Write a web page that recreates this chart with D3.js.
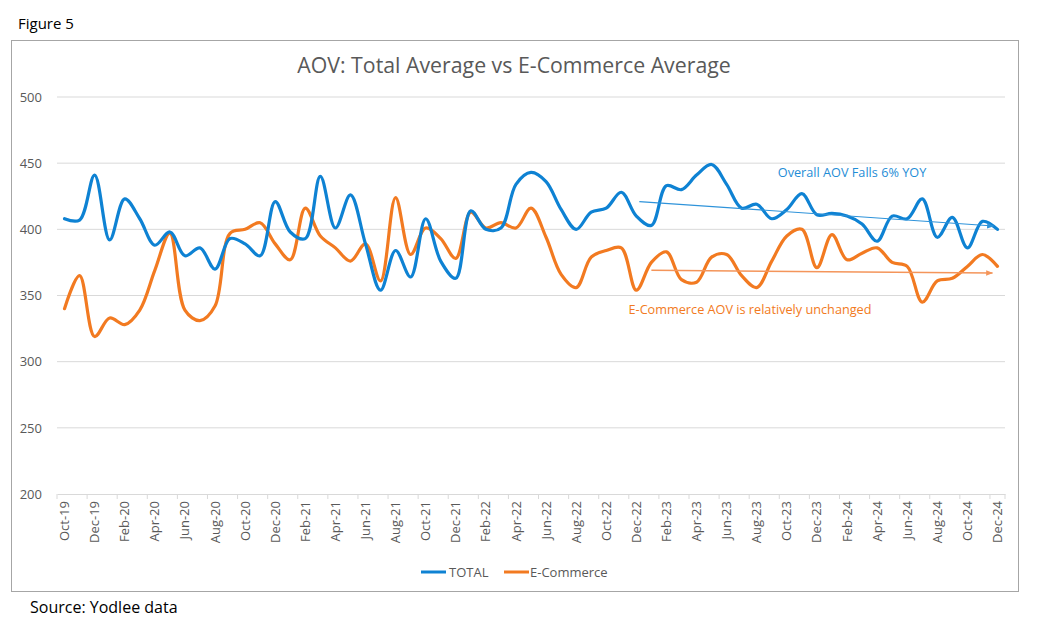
<!DOCTYPE html>
<html><head><meta charset="utf-8">
<script src="https://cdn.jsdelivr.net/npm/d3@7"></script>
<style>body{margin:0;background:#fff;}svg{display:block;font-family:"Open Sans","Noto Sans",sans-serif;}</style>
</head><body><svg id="c" width="1051" height="625"></svg>
<script>
const months = ["Oct-19","Nov-19","Dec-19","Jan-20","Feb-20","Mar-20","Apr-20","May-20","Jun-20","Jul-20","Aug-20","Sep-20","Oct-20","Nov-20","Dec-20","Jan-21","Feb-21","Mar-21","Apr-21","May-21","Jun-21","Jul-21","Aug-21","Sep-21","Oct-21","Nov-21","Dec-21","Jan-22","Feb-22","Mar-22","Apr-22","May-22","Jun-22","Jul-22","Aug-22","Sep-22","Oct-22","Nov-22","Dec-22","Jan-23","Feb-23","Mar-23","Apr-23","May-23","Jun-23","Jul-23","Aug-23","Sep-23","Oct-23","Nov-23","Dec-23","Jan-24","Feb-24","Mar-24","Apr-24","May-24","Jun-24","Jul-24","Aug-24","Sep-24","Oct-24","Nov-24","Dec-24"];
const totalValues = [408,407,441,392,423,408,388,398,380,386,370,393,389,380,421,398,393,440,401,426,389,354,384,364,408,376,363,414,400,401,434,443,436,415,400,413,416,428,410,403,433,430,441,449,434,416,419,408,415,427,411,412,410,404,391,410,408,423,394,409,386,406,400];
const ecomValues = [340,365,319,333,328,339,369,397,339,331,342,397,400,405,389,377,416,395,386,376,389,361,424,381,401,393,378,413,401,405,401,416,394,366,356,379,384,386,354,375,383,362,360,379,381,365,356,376,395,400,371,396,377,382,386,375,372,345,361,363,372,381,372];
const yTicks = [200,250,300,350,400,450,500];
const seriesNames = ["TOTAL","E-Commerce"];
const colors = ["#0E82D3","#F27A21"];
const totalTrend = {from:"Dec-22", to:"Dec-24", v0:421, v1:402.5};
const ecomTrend = {from:"Jan-23", to:"Dec-24", v0:369, v1:367};
const annTotal = "Overall AOV Falls 6% YOY";
const annEcom = "E-Commerce AOV is relatively unchanged";

(function(){
const svg = d3.select("#c");
const L = 57, R = 1005, T = 97, B = 494;
const x = d3.scaleBand().domain(months).range([L, R]);
const xc = m => x(m) + x.bandwidth()/2;
const y = d3.scaleLinear().domain([200,500]).range([B, T]);

svg.append("text").attr("x",18).attr("y",29).attr("font-size",15).attr("fill","#000").text("Figure 5");
svg.append("rect").attr("x",11.5).attr("y",40.5).attr("width",1007).attr("height",551).attr("fill","#fff").attr("stroke","#a6a6a6");
svg.append("text").attr("x",514).attr("y",73).attr("text-anchor","middle").attr("font-size",21.3).attr("fill","#595959").text("AOV: Total Average vs E-Commerce Average");
svg.append("text").attr("x",30).attr("y",613).attr("font-size",16).attr("fill","#000").text("Source: Yodlee data");

svg.append("g").selectAll("line").data(yTicks.slice(1)).join("line")
  .attr("x1",L).attr("x2",R).attr("y1",d=>y(d)).attr("y2",d=>y(d))
  .attr("stroke","#d9d9d9").attr("stroke-width",1);
const ya = svg.append("g").attr("transform",`translate(${L},0)`)
  .call(d3.axisLeft(y).tickValues(yTicks).tickSize(0).tickPadding(15));
ya.select(".domain").remove();
ya.selectAll("text").attr("font-size",13).attr("fill","#595959").attr("font-family","'Open Sans','Noto Sans',sans-serif");

const tickMonths = months.filter((m,i)=>i%2===0);
const xa = svg.append("g").attr("transform",`translate(0,${B})`)
  .call(d3.axisBottom(x).tickValues(tickMonths).tickSize(0).tickPadding(7));
xa.select(".domain").attr("stroke","#d9d9d9");
xa.selectAll("text").attr("font-size",13).attr("fill","#595959").attr("font-family","'Open Sans','Noto Sans',sans-serif")
  .attr("transform","rotate(-90)").attr("text-anchor","end").attr("dy","0.35em").attr("x",-7).attr("y",0);
const boundaries = tickMonths.map(m=>x(m)).concat([R]);
svg.append("g").selectAll("line").data(boundaries).join("line")
  .attr("x1",d=>d).attr("x2",d=>d).attr("y1",B).attr("y2",B+5).attr("stroke","#d9d9d9");

const line = d3.line().x((d,i)=>xc(months[i])).y(d=>y(d)).curve(d3.curveCatmullRom.alpha(0.5));
[ecomValues,totalValues].forEach((vals,k)=>{
  svg.append("path").datum(vals).attr("d",line).attr("fill","none")
    .attr("stroke",colors[1-k]).attr("stroke-width",3.2).attr("stroke-linejoin","round").attr("stroke-linecap","round");
});

const defs = svg.append("defs");
[["aB","#2E93DA"],["aO","#F4955A"]].forEach(([id,c])=>{
  defs.append("marker").attr("id",id).attr("viewBox","0 0 10 10").attr("refX",9).attr("refY",5)
    .attr("markerWidth",7).attr("markerHeight",7).attr("orient","auto").attr("markerUnits","userSpaceOnUse")
    .append("path").attr("d","M0,1 L10,5 L0,9 z").attr("fill",c);
});
svg.append("line").attr("x1",xc(totalTrend.from)+3).attr("y1",y(totalTrend.v0)).attr("x2",xc(totalTrend.to)-4).attr("y2",y(totalTrend.v1))
  .attr("stroke","#2E93DA").attr("stroke-width",1.2).attr("marker-end","url(#aB)");
svg.append("line").attr("x1",xc(ecomTrend.from)).attr("y1",y(ecomTrend.v0)).attr("x2",xc(ecomTrend.to)-5).attr("y2",y(ecomTrend.v1))
  .attr("stroke","#F4955A").attr("stroke-width",1.5).attr("marker-end","url(#aO)");

svg.append("text").attr("x",852).attr("y",177).attr("text-anchor","middle").attr("font-size",12.7).attr("fill","#1F8DD6").text(annTotal);
svg.append("text").attr("x",750).attr("y",314).attr("text-anchor","middle").attr("font-size",12.7).attr("fill","#F27A21").text(annEcom);

const lg = svg.append("g");
[[421,449],[504,530]].forEach(([lx,tx],k)=>{
  lg.append("line").attr("x1",lx).attr("x2",lx+25).attr("y1",572).attr("y2",572).attr("stroke",colors[k]).attr("stroke-width",3);
  lg.append("text").attr("x",tx).attr("y",577).attr("font-size",13).attr("fill","#595959").text(seriesNames[k]);
});
})();
</script></body></html>
